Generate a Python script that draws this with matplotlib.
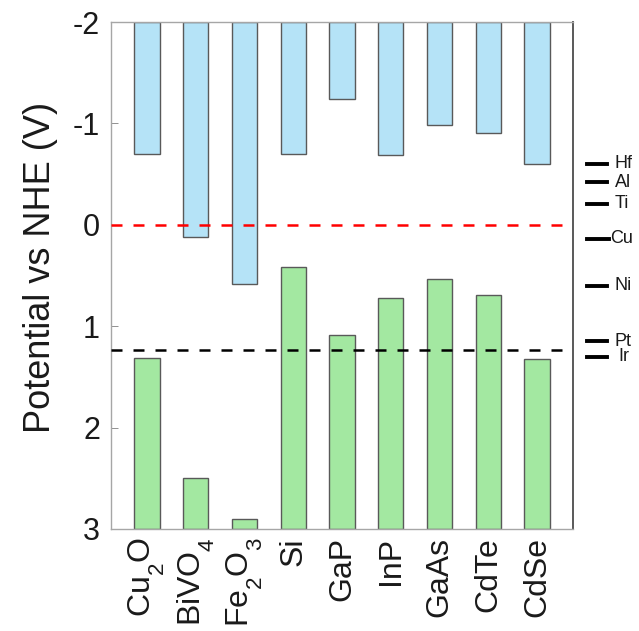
import matplotlib
matplotlib.use("Agg")
import matplotlib.pyplot as plt
import matplotlib.transforms as mtransforms
import matplotlib._mathtext as _mt

plt.rcParams['font.family'] = ['Liberation Sans', 'DejaVu Sans']
plt.rcParams['mathtext.default'] = 'regular'

# MATLAB-style deeper subscripts
_classes = set(_mt._font_constant_mapping.values()) | {_mt.FontConstantsBase}
for _c in _classes:
    _c.sub1 = 0.85
    _c.sub2 = 0.85

materials = [r'Cu$_2$O', r'BiVO$_4$', r'Fe$_2$O$_3$', 'Si', 'GaP', 'InP', 'GaAs', 'CdTe', 'CdSe']
cb_edge = [-0.70, 0.12, 0.58, -0.70, -1.24, -0.69, -0.98, -0.91, -0.60]   # conduction band (V vs NHE)
vb_edge = [1.31, 2.50, 2.90, 0.42, 1.09, 0.72, 0.53, 0.69, 1.32]        # valence band (V vs NHE)

metals = ['Hf', 'Al', 'Ti', 'Cu', 'Ni', 'Pt', 'Ir']
metal_pot = [-0.60, -0.42, -0.21, 0.14, 0.60, 1.15, 1.30]

h2_level = 0.0
o2_level = 1.23
ymin_plot, ymax_plot = -2, 3

blue = (0.71, 0.89, 0.97)
green = (0.64, 0.91, 0.63)
edge = (0.35, 0.35, 0.35)

fig = plt.figure(figsize=(6.39, 6.31), dpi=100)
ax = fig.add_axes([0.1737, 0.1617, 0.7230, 0.8034])

x = list(range(1, len(materials) + 1))
ax.bar(x, [c - ymin_plot for c in cb_edge], bottom=ymin_plot, width=0.52,
       color=blue, edgecolor=edge, linewidth=1.0, zorder=2)
ax.bar(x, [ymax_plot - v for v in vb_edge], bottom=vb_edge, width=0.52,
       color=green, edgecolor=edge, linewidth=1.0, zorder=2)

ax.axhline(h2_level, color='red', lw=1.8, linestyle=(0, (4.4, 4.4)), zorder=3)
ax.axhline(o2_level, color='black', lw=1.8, linestyle=(0, (4.4, 4.4)), zorder=3)

ax.set_ylim(ymax_plot, ymin_plot)
ax.set_xlim(0.26, 9.74)
ax.set_yticks([-2, -1, 0, 1, 2, 3])
ax.set_yticklabels(['-2', '-1', '0', '1', '2', '3'])
ax.set_xticks(x)
ax.set_xticklabels(materials, rotation=90)
ax.tick_params(axis='both', direction='in', length=5, width=0.6, color='0.5',
               labelcolor='0.1')
ax.tick_params(axis='x', length=0, pad=6, labelsize=23)
ax.tick_params(axis='y', pad=8, labelsize=22)
ax.set_ylabel('Potential vs NHE (V)', fontsize=26, color='0.1')
ax.yaxis.set_label_coords(-0.115, 0.515)

for s in ['left', 'top', 'bottom']:
    ax.spines[s].set_color('0.65')
    ax.spines[s].set_linewidth(1.0)
ax.spines['right'].set_color('0.35')
ax.spines['right'].set_linewidth(1.4)

trans = mtransforms.blended_transform_factory(ax.transAxes, ax.transData)
for name, p in zip(metals, metal_pot):
    x_end = 1.078 if name == 'Cu' else 1.074
    ax.plot([1.030, x_end], [p, p], color='black', lw=2.8, transform=trans, clip_on=False)
    xt = 1.081 if name == 'Cu' else 1.090
    if name == 'Ir':
        xt = 1.098
    ax.text(xt, p, name, transform=trans, ha='left', va='center', fontsize=13, color='0.1')

fig.savefig('out.png', dpi=100)
